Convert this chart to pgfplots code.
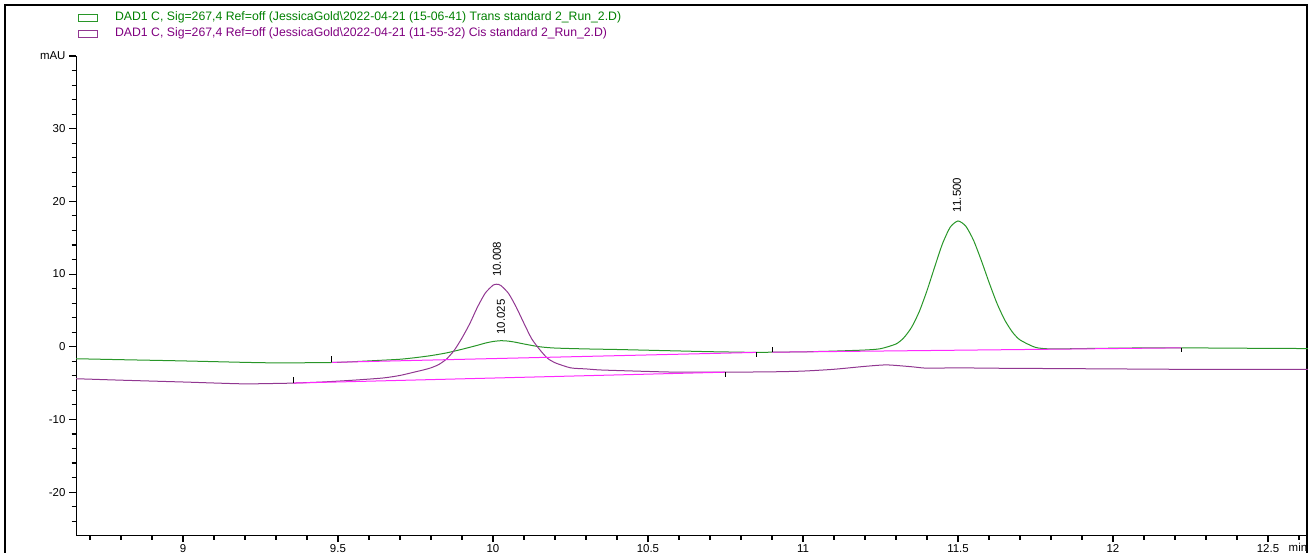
\documentclass[border=0pt]{standalone}
\usepackage{fontspec}
\setmainfont{Liberation Sans}
\usepackage{pgfplots}
\pgfplotsset{compat=1.18}
\definecolor{trans}{RGB}{40,150,40}
\definecolor{transtxt}{RGB}{0,128,0}
\definecolor{cis}{RGB}{145,55,145}
\definecolor{cistxt}{RGB}{128,0,128}
\definecolor{basel}{RGB}{255,40,255}

\begin{document}
\begin{tikzpicture}
\useasboundingbox (0bp,0bp) rectangle (1314bp,553bp);
% outer frame of the report page
\draw[line width=1.3bp] (5bp,-20bp) -- (5bp,548bp) -- (1307bp,548bp) -- (1307bp,-20bp);
\begin{axis}[
  at={(76bp,18bp)}, anchor=south west,
  width=1232bp, height=479bp, scale only axis,
  xmin=8.655, xmax=12.629, ymin=-25.9, ymax=40,
  axis x line*=bottom, axis y line*=left,
  axis line style={black, line width=0.9bp},
  tick align=outside, xtick pos=bottom, ytick pos=left,
  xtick={9,9.5,10,10.5,11,11.5,12,12.5},
  minor xtick={8.7,8.8,8.9,9.1,9.2,9.3,9.4,9.6,9.7,9.8,9.9,10.1,10.2,10.3,10.4,10.6,10.7,10.8,10.9,11.1,11.2,11.3,11.4,11.6,11.7,11.8,11.9,12.1,12.2,12.3,12.4,12.6},
  ytick={-20,-10,0,10,20,30,40},
  yticklabels={-20,-10,0,10,20,30,mAU},
  minor ytick={-24,-22,-18,-16,-14,-12,-8,-6,-4,-2,2,4,6,8,12,14,16,18,22,24,26,28,32,34,36,38},
  major tick length=7bp, minor tick length=4.5bp,
  every tick/.style={black, line width=1.1bp},
  xticklabel style={yshift=1bp},
  ticklabel style={font=\fontsize{11.5}{13}\selectfont},
  /pgf/number format/assume math mode=true,
  xlabel={min},
  xlabel style={at={(axis description cs:0.9815,0)}, anchor=north west, yshift=-5bp, font=\fontsize{11.5}{13}\selectfont},
  legend style={at={(axis description cs:0.0016,1.0928)}, anchor=north west,
    draw=none, fill=none, inner sep=0pt, row sep=4.5bp,
    font=\fontsize{12.3}{14}\selectfont,
    nodes={inner sep=0pt, text height=9bp, text depth=2.5bp}},
  legend cell align=left,
  legend image code/.code={\draw[#1, line width=0.9bp] (0bp,-3.5bp) rectangle (19bp,3.5bp); \path (36bp,0bp);},
]
% Trans standard
\addplot[trans, line width=1bp, smooth, tension=0.4] coordinates {
(8.655,-1.65) (8.8,-1.78) (9.0,-1.95) (9.2,-2.15) (9.3,-2.22) (9.4,-2.2) (9.5,-2.15)
(9.6,-1.95) (9.7,-1.72) (9.75,-1.5) (9.8,-1.22) (9.85,-0.85) (9.9,-0.35) (9.95,0.2)
(9.975,0.5) (10.0,0.72) (10.025,0.83) (10.05,0.77) (10.075,0.6) (10.1,0.38) (10.15,0.0)
(10.2,-0.18) (10.3,-0.3) (10.4,-0.38) (10.5,-0.48) (10.6,-0.58) (10.7,-0.68) (10.8,-0.75)
(10.85,-0.78) (10.9,-0.75) (11.0,-0.7) (11.1,-0.6) (11.2,-0.45) (11.25,-0.27) (11.3,0.38)
(11.325,1.22) (11.35,2.65) (11.375,4.82) (11.4,7.71) (11.425,11.0) (11.45,14.17)
(11.475,16.45) (11.5,17.3) (11.525,16.6) (11.55,14.66) (11.575,11.9) (11.6,8.88)
(11.625,6.05) (11.65,3.74) (11.675,2.05) (11.7,0.94) (11.75,-0.09) (11.8,-0.3)
(11.9,-0.25) (12.0,-0.2) (12.1,-0.16) (12.22,-0.15) (12.4,-0.2) (12.629,-0.25)
};
\addlegendentry[text=transtxt]{DAD1 C, Sig=267,4 Ref=off (JessicaGold\textbackslash 2022-04-21 (15-06-41) Trans standard 2\_Run\_2.D)}
% Cis standard
\addplot[cis, line width=1bp, smooth, tension=0.4] coordinates {
(8.655,-4.4) (8.8,-4.6) (9.0,-4.85) (9.19,-5.1) (9.3,-5.05) (9.356,-5.0) (9.45,-4.85)
(9.55,-4.6) (9.645,-4.3) (9.7,-3.95) (9.75,-3.45) (9.775,-3.2) (9.8,-2.9) (9.825,-2.45)
(9.85,-1.7) (9.875,-0.5) (9.9,1.2) (9.925,3.16) (9.95,5.45) (9.975,7.37) (10.0,8.46)
(10.012,8.6) (10.025,8.44) (10.05,7.35) (10.075,5.46) (10.1,3.22) (10.125,1.09)
(10.15,-0.35) (10.175,-1.55) (10.2,-2.2) (10.25,-2.9) (10.3,-3.05) (10.35,-3.2)
(10.5,-3.4) (10.6,-3.5) (10.75,-3.5) (10.9,-3.45) (11.0,-3.35) (11.1,-3.1) (11.2,-2.7)
(11.27,-2.5) (11.35,-2.75) (11.4,-2.95) (11.5,-2.9) (11.6,-2.95) (11.8,-3.0) (12.0,-3.05)
(12.2,-3.1) (12.4,-3.1) (12.629,-3.1)
};
\addlegendentry[text=cistxt]{DAD1 C, Sig=267,4 Ref=off (JessicaGold\textbackslash 2022-04-21 (11-55-32) Cis standard 2\_Run\_2.D)}
% integration baselines
\addplot[basel, line width=1bp, forget plot] coordinates {(9.48,-2.15) (10.85,-0.78)};
\addplot[basel, line width=1bp, forget plot] coordinates {(10.9,-0.75) (12.22,-0.15)};
\addplot[basel, line width=1bp, forget plot] coordinates {(9.356,-5.0) (10.75,-3.5)};
% start/end ticks of the integration
\addplot[black, line width=0.9bp, forget plot] coordinates {(9.48,-2.15) (9.48,-1.3)};
\addplot[black, line width=0.9bp, forget plot] coordinates {(9.356,-5.0) (9.356,-4.15)};
\addplot[black, line width=0.9bp, forget plot] coordinates {(10.75,-3.5) (10.75,-4.15)};
\addplot[black, line width=0.9bp, forget plot] coordinates {(10.85,-0.78) (10.85,-1.4)};
\addplot[black, line width=0.9bp, forget plot] coordinates {(10.9,-0.75) (10.9,0.0)};
\addplot[black, line width=0.9bp, forget plot] coordinates {(12.22,-0.15) (12.22,-0.75)};
% retention time labels
\node[rotate=90, anchor=west, inner sep=0pt, font=\fontsize{11.5}{13}\selectfont] at (axis cs:10.013,9.6) {10.008};
\node[rotate=90, anchor=west, inner sep=0pt, font=\fontsize{11.5}{13}\selectfont] at (axis cs:10.026,1.65) {10.025};
\node[rotate=90, anchor=west, inner sep=0pt, font=\fontsize{11.5}{13}\selectfont] at (axis cs:11.497,18.5) {11.500};
\end{axis}
\end{tikzpicture}
\end{document}
